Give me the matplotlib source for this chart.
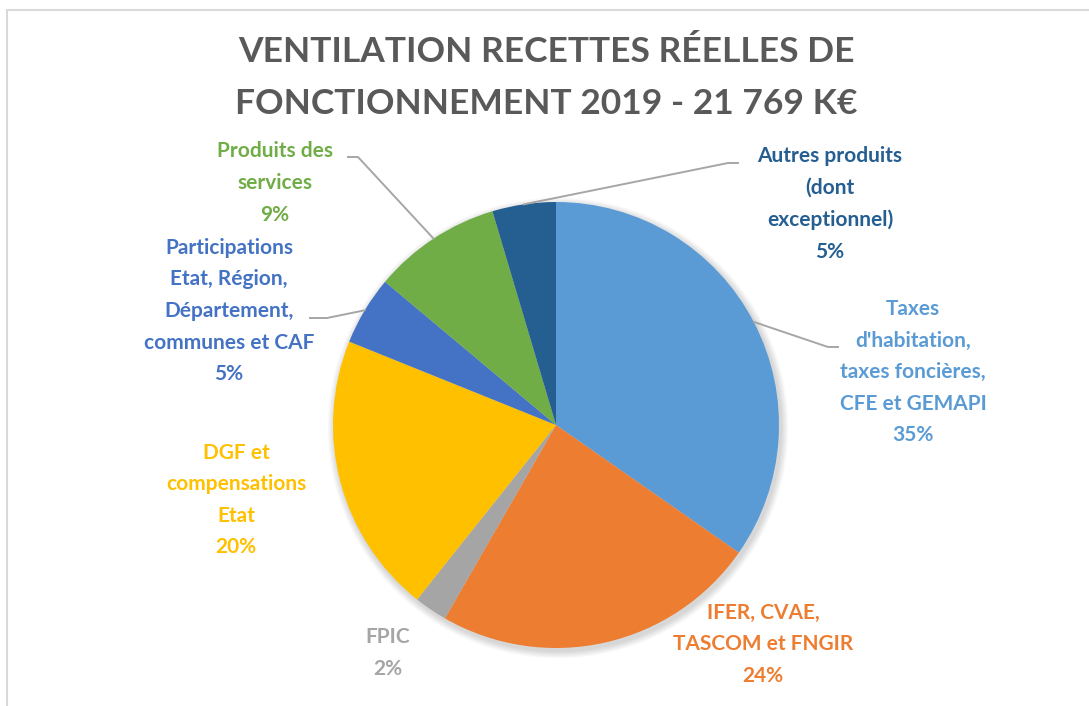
import matplotlib
matplotlib.use("Agg")
import matplotlib.pyplot as plt
import numpy as np
from matplotlib.patches import Circle, Rectangle

W, H = 1089, 706

# Données
categories = [
    "Taxes\nd'habitation,\ntaxes foncières,\nCFE et GEMAPI",
    "IFER, CVAE,\nTASCOM et FNGIR",
    "FPIC",
    "DGF et\ncompensations\nEtat",
    "Participations\nEtat, Région,\nDépartement,\ncommunes et CAF",
    "Produits des\nservices",
    "Autres produits\n(dont\nexceptionnel)",
]
values = [34.7, 23.6, 2.4, 20.4, 5.0, 9.3, 4.6]
colors = ["#5B9BD5", "#ED7D31", "#A5A5A5", "#FFC000", "#4472C4", "#70AD47", "#255E91"]
title_lines = ["VENTILATION RECETTES RÉELLES DE", "FONCTIONNEMENT 2019 - 21 769 K€"]

# Mise en page (pixels, y vers le bas)
center = (556, 425)
radius = 223
label_pos = [(913, 372), (763, 644), (388, 653), (236, 500), (229, 311), (275, 183), (830, 204)]
# coude et extrémité des traits de rappel (None = pas de trait)
leaders = [
    ((828, 347), (838, 347)),
    None,
    None,
    None,
    ((327, 318), (310, 318)),
    ((358, 157), (348, 157)),
    ((728, 163), (738, 163)),
]

FONT = ["Lato", "DejaVu Sans"]


def fy(y):
    return H - y


fig = plt.figure(figsize=(W / 100, H / 100), dpi=100)
ax = fig.add_axes([0, 0, 1, 1])

# cadre gris clair (coupé à droite et en bas)
ax.add_patch(Rectangle((7, -20), W + 50, fy(10) + 20, fill=False,
                       edgecolor="#D9D9D9", lw=1.5, clip_on=False))

# ombre douce sous le camembert
for k in range(8):
    ax.add_patch(Circle((center[0] + 2, fy(center[1]) - 3), radius + 1 + k * 0.9,
                        color="black", alpha=0.018, lw=0, zorder=1))

wedges, _ = ax.pie(values, colors=colors, startangle=90, counterclock=False,
                   center=(center[0], fy(center[1])), radius=radius,
                   wedgeprops=dict(linewidth=0, zorder=2), frame=True)
ax.set_xlim(0, W)
ax.set_ylim(0, H)
ax.set_aspect("equal")
ax.axis("off")

total = sum(values)
for i, (cat, v) in enumerate(zip(categories, values)):
    x, y = label_pos[i]
    ax.text(x, fy(y), f"{cat}\n{v / total * 100:.0f}%", ha="center", va="center",
            color=colors[i], fontsize=15, fontweight="bold", family=FONT,
            linespacing=1.72, zorder=5)
    if leaders[i] is not None:
        w = wedges[i]
        ang = np.deg2rad((w.theta1 + w.theta2) / 2)
        ex = center[0] + radius * np.cos(ang)
        ey = fy(center[1]) + radius * np.sin(ang)
        (bx, by), (tx, ty) = leaders[i]
        ax.plot([ex, bx, tx], [ey, fy(by), fy(ty)], color="#A6A6A6", lw=1.4,
                solid_joinstyle="round", zorder=3)

for j, line in enumerate(title_lines):
    ax.text(546, fy(52 + j * 52), line, ha="center", va="center", color="#595959",
            fontsize=25.5, fontweight="bold", family=FONT)

fig.savefig("out.png", dpi=100)
